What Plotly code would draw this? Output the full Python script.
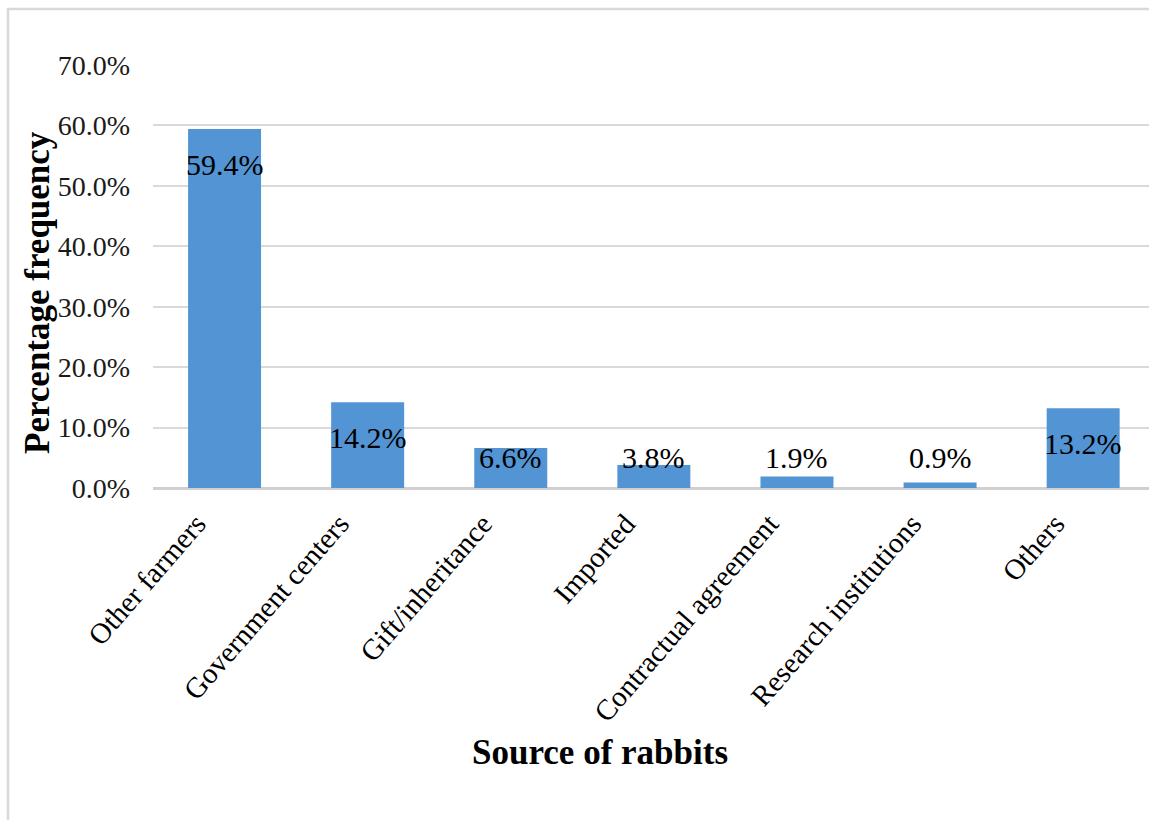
import plotly.graph_objects as go

categories = ["Other farmers", "Government centers", "Gift/inheritance", "Imported",
              "Contractual agreement", "Research institutions", "Others"]
values = [59.4, 14.2, 6.6, 3.8, 1.9, 0.9, 13.2]
y_ticks = [0, 10, 20, 30, 40, 50, 60, 70]
y_tick_labels = [f"{v:.1f}%" for v in y_ticks]

FONT = "Liberation Serif"
W, H = 1149, 820
L, R, T, B = 153, 0, 65, 332

fig = go.Figure()
fig.add_trace(go.Bar(
    x=categories, y=values, width=0.51,
    marker=dict(color="#5394d4", line=dict(width=0)),
    hoverinfo="x+y",
))

# data labels (inside end, clamped for short bars)
for c, v in zip(categories, values):
    fig.add_annotation(x=c, y=max(v - 5.8, 5.0), text=f"{v:.1f}%", showarrow=False,
                       xref="x", yref="y", yanchor="middle",
                       font=dict(family=FONT, size=30, color="#000000"))

pw = W - L - R
ph = H - T - B
def px(xp):
    return (xp - L) / pw
def py(yp):
    return (H - B - yp) / ph

# axis titles
fig.add_annotation(text="<b>Percentage frequency</b>", textangle=-90, showarrow=False,
                   xref="paper", yref="paper", x=px(37), y=py(293),
                   xanchor="center", yanchor="middle",
                   font=dict(family=FONT, size=35, color="#000000"))
fig.add_annotation(text="<b>Source of rabbits</b>", showarrow=False,
                   xref="paper", yref="paper", x=px(600), y=py(752),
                   xanchor="center", yanchor="middle",
                   font=dict(family=FONT, size=35, color="#000000"))

# chart border
fig.add_shape(type="rect", xref="paper", yref="paper",
              x0=px(8), x1=px(1170), y0=py(840), y1=py(9),
              line=dict(color="#d9d9d9", width=2.5), fillcolor="rgba(0,0,0,0)", layer="below")

fig.update_layout(
    width=W, height=H,
    margin=dict(l=L, r=R, t=T, b=B, autoexpand=False),
    paper_bgcolor="white", plot_bgcolor="white",
    showlegend=False,
    bargap=0.49,
    font=dict(family=FONT, color="#000000"),
)
fig.update_xaxes(
    range=[-0.5, 6.46], tickangle=-49,
    tickfont=dict(family=FONT, size=29, color="#000000"),
    showgrid=False, showline=False, ticks="", automargin=False,
    ticklabelshift=-28, ticklabelstandoff=12,
)
fig.update_yaxes(
    range=[0, 70], tickvals=y_ticks, ticktext=y_tick_labels,
    tickfont=dict(family=FONT, size=28, color="#1a1a1a"),
    showgrid=True, gridcolor="#d9d9d9", gridwidth=1.5,
    zeroline=True, zerolinecolor="#d0d0d0", zerolinewidth=2.5,
    showline=False, ticks="", ticklabelstandoff=22, automargin=False,
)

fig.write_html("out.html")
